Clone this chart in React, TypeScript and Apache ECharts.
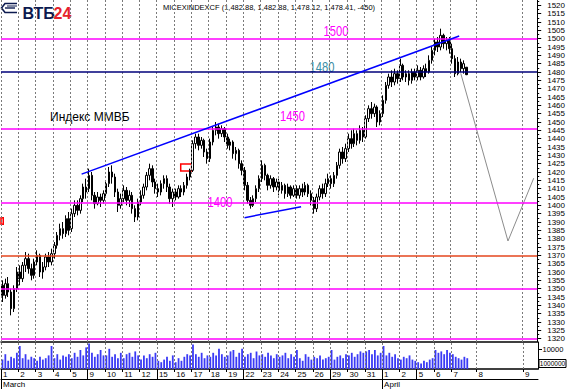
import React, { useEffect, useRef } from 'react';
import * as echarts from 'echarts';

// ---- axis labels / ticks ----
const dayLabels = ['1', '2', '3', '4', '5', '9', '10', '11', '12', '15', '16', '17', '18', '19', '22', '23', '24', '25', '26', '29', '30', '31', '1', '2', '5', '6', '7', '8', '9'];
const dayStarts = [0, 1, 2, 3, 4, 5, 6, 7, 8, 9, 10, 11, 12, 13, 14, 15, 16, 17, 18, 19, 20, 21, 22, 23, 24, 25, 26, 27.45, 30.14];
const weekStarts = [0, 5, 9, 14, 19, 22, 24];
const monthStarts = [0, 22];
const monthLabels = ['March', 'April'];
const priceTicks = [1320, 1325, 1330, 1335, 1340, 1345, 1350, 1355, 1360, 1365, 1370, 1375, 1380, 1385, 1390, 1395, 1400, 1405, 1410, 1415, 1420, 1425, 1430, 1435, 1440, 1445, 1450, 1455, 1460, 1465, 1470, 1475, 1480, 1485, 1490, 1495, 1500, 1505, 1510, 1515, 1520];
const volumeTicks = [10000];

// ---- price bars: [open, close, low, high], 6 bars per trading day ----
const BARS_PER_DAY = 6;
const ohlc: number[][] = [
  // Mar 1
  [1352, 1346, 1342, 1355], [1346, 1353, 1344, 1356], [1353, 1348, 1345, 1357], [1348, 1338, 1334, 1350], [1338, 1350, 1336, 1352], [1350, 1360, 1348, 1363],
  // Mar 2
  [1360, 1356, 1352, 1364], [1356, 1364, 1354, 1366], [1364, 1368, 1360, 1372], [1368, 1362, 1359, 1371], [1362, 1358, 1355, 1365], [1358, 1366, 1356, 1368],
  // Mar 3
  [1366, 1370, 1364, 1373], [1370, 1360, 1357, 1371], [1360, 1363, 1356, 1366], [1363, 1369, 1361, 1371], [1369, 1366, 1363, 1372], [1366, 1371, 1364, 1374],
  // Mar 4
  [1371, 1376, 1368, 1378], [1376, 1382, 1374, 1384], [1382, 1386, 1379, 1389], [1386, 1383, 1380, 1390], [1383, 1392, 1381, 1394], [1392, 1385, 1382, 1396],
  // Mar 5
  [1386, 1395, 1384, 1398], [1395, 1400, 1393, 1403], [1400, 1397, 1394, 1403], [1397, 1404, 1395, 1406], [1404, 1411, 1402, 1413], [1411, 1408, 1404, 1416],
  // Mar 9
  [1410, 1418, 1408, 1422], [1418, 1406, 1403, 1420], [1406, 1401, 1398, 1408], [1401, 1405, 1400, 1408], [1405, 1403, 1399, 1407], [1403, 1407, 1401, 1409],
  // Mar 10
  [1407, 1413, 1405, 1415], [1413, 1420, 1411, 1423], [1420, 1417, 1413, 1424], [1417, 1408, 1405, 1419], [1408, 1400, 1396, 1410], [1400, 1404, 1398, 1407],
  // Mar 11
  [1404, 1409, 1402, 1412], [1409, 1403, 1400, 1411], [1403, 1406, 1399, 1409], [1406, 1398, 1395, 1408], [1398, 1393, 1390, 1400], [1393, 1402, 1391, 1404],
  // Mar 12
  [1402, 1406, 1400, 1409], [1406, 1411, 1404, 1413], [1411, 1418, 1409, 1420], [1418, 1422, 1415, 1425], [1422, 1414, 1411, 1424], [1414, 1410, 1407, 1416],
  // Mar 15
  [1410, 1408, 1405, 1413], [1408, 1413, 1406, 1415], [1413, 1416, 1410, 1418], [1416, 1411, 1408, 1418], [1411, 1404, 1401, 1413], [1404, 1408, 1399, 1410],
  // Mar 16
  [1408, 1405, 1403, 1410], [1405, 1410, 1404, 1412], [1410, 1408, 1405, 1412], [1408, 1412, 1406, 1414], [1412, 1417, 1410, 1419], [1417, 1421, 1415, 1422],
  // Mar 17
  [1421, 1437, 1420, 1439], [1437, 1441, 1434, 1443], [1441, 1436, 1433, 1443], [1436, 1439, 1434, 1441], [1439, 1432, 1429, 1440], [1432, 1428, 1425, 1434],
  // Mar 18
  [1428, 1438, 1426, 1440], [1438, 1445, 1436, 1447], [1445, 1447, 1442, 1450], [1447, 1443, 1440, 1449], [1443, 1446, 1441, 1448], [1446, 1441, 1438, 1447],
  // Mar 19
  [1441, 1436, 1434, 1443], [1436, 1438, 1433, 1440], [1438, 1431, 1428, 1439], [1431, 1433, 1427, 1435], [1433, 1425, 1422, 1434], [1425, 1421, 1418, 1427],
  // Mar 22
  [1421, 1412, 1409, 1423], [1412, 1403, 1401, 1414], [1403, 1400, 1398, 1405], [1400, 1404, 1399, 1406], [1404, 1410, 1402, 1412], [1410, 1416, 1408, 1418],
  // Mar 23
  [1416, 1424, 1414, 1427], [1424, 1418, 1415, 1425], [1418, 1412, 1409, 1419], [1412, 1416, 1410, 1418], [1416, 1411, 1408, 1417], [1411, 1414, 1409, 1416],
  // Mar 24
  [1414, 1409, 1406, 1416], [1409, 1412, 1407, 1414], [1412, 1407, 1404, 1413], [1407, 1411, 1405, 1413], [1411, 1406, 1404, 1412], [1406, 1410, 1405, 1412],
  // Mar 25
  [1410, 1406, 1404, 1412], [1406, 1410, 1404, 1412], [1410, 1408, 1405, 1413], [1408, 1412, 1406, 1414], [1412, 1407, 1405, 1413], [1407, 1403, 1400, 1409],
  // Mar 26
  [1403, 1398, 1395, 1405], [1398, 1405, 1396, 1407], [1405, 1410, 1403, 1412], [1410, 1407, 1404, 1413], [1407, 1413, 1405, 1416], [1413, 1416, 1411, 1419],
  // Mar 29
  [1416, 1413, 1410, 1418], [1413, 1418, 1411, 1420], [1418, 1424, 1416, 1426], [1424, 1432, 1422, 1434], [1432, 1428, 1425, 1435], [1428, 1434, 1426, 1437],
  // Mar 30
  [1434, 1440, 1432, 1443], [1440, 1437, 1434, 1445], [1437, 1443, 1435, 1446], [1443, 1439, 1436, 1445], [1439, 1445, 1437, 1448], [1445, 1441, 1438, 1447],
  // Mar 31
  [1441, 1452, 1440, 1454], [1452, 1458, 1450, 1460], [1458, 1455, 1452, 1462], [1455, 1459, 1453, 1461], [1459, 1450, 1447, 1460], [1450, 1455, 1448, 1457],
  // Apr 1
  [1455, 1463, 1453, 1466], [1463, 1472, 1461, 1474], [1472, 1477, 1470, 1479], [1477, 1474, 1471, 1481], [1474, 1479, 1472, 1482], [1479, 1476, 1473, 1481],
  // Apr 2
  [1476, 1484, 1474, 1488], [1484, 1477, 1475, 1485], [1477, 1479, 1474, 1481], [1479, 1475, 1472, 1481], [1475, 1480, 1473, 1482], [1480, 1477, 1475, 1482],
  // Apr 5
  [1477, 1481, 1475, 1484], [1481, 1477, 1475, 1483], [1477, 1482, 1476, 1484], [1482, 1480, 1477, 1485], [1480, 1487, 1479, 1490], [1487, 1493, 1485, 1495],
  // Apr 6
  [1493, 1498, 1490, 1500], [1498, 1495, 1492, 1501], [1495, 1502, 1493, 1506], [1502, 1497, 1494, 1503], [1497, 1499, 1493, 1501], [1499, 1494, 1491, 1501],
  // Apr 7
  [1494, 1488, 1485, 1497], [1488, 1479, 1477, 1490], [1479, 1486, 1478, 1489], [1486, 1482, 1480, 1488], [1482, 1485, 1479, 1487], [1482.88, 1478.41, 1478.12, 1482.88],
];

const volumes = [
  4700, 7400, 4100, 6100, 5400, 8100,
  11500, 5400, 7400, 4700, 6100, 5400,
  4100, 6100, 4700, 5400, 6800, 11500,
  5400, 7400, 4700, 6800, 6100, 7400,
  5400, 8100, 6100, 9500, 6800, 10800,
  12800, 8100, 6100, 7400, 9500, 6800,
  6800, 10100, 6100, 7400, 5400, 8100,
  5400, 7400, 8100, 6100, 8800, 6800,
  4700, 6800, 5400, 7400, 6100, 8100,
  4100, 3400, 4700, 6100, 4100, 6800,
  3400, 5400, 4100, 6100, 7400, 6800,
  12200, 7400, 6100, 8100, 5400, 6800,
  6100, 8100, 6800, 10100, 7400, 6100,
  6800, 8800, 9500, 6100, 8100, 10100,
  6100, 7400, 8100, 5400, 8800, 6800,
  7400, 6100, 8100, 6800, 5400, 7400,
  6100, 6800, 8100, 5400, 7400, 6100,
  9500, 5400, 4100, 7400, 6100, 4700,
  6100, 5400, 6800, 4700, 5400, 6100,
  9500, 4700, 6100, 6800, 5400, 7400,
  6800, 8100, 6100, 7400, 8800, 8100,
  8800, 9500, 7400, 9500, 6800, 8100,
  11500, 6800, 8100, 6100, 7400, 5400,
  4700, 6100, 5400, 6800, 4700, 4100,
  3400, 2700, 4100, 3400, 4700, 5400,
  9500, 8100, 8800, 7400, 9500, 8100,
  7400, 6100, 5400, 4700, 6100, 5400,
];

// ---- drawn levels / lines (data units: x = trading-day index, y = index points) ----
const levelValues = [1500, 1480, 1446, 1401.5, 1370, 1350, 1320];
const levelColors = ['#ff00ff', '#00007a', '#ff00ff', '#ff00ff', '#e4461e', '#ff00ff', '#ff00ff'];
const upperTrend = [[4.66, 1418.7], [26.49, 1501.6]];
const lowerTrend = [[14.08, 1392.6], [17.35, 1399.2]];
const projection = [[26.58, 1479.2], [29.31, 1378.6], [30.8, 1416.3]];
const redBoxes = [
  [[10.39, 1424.8], [11.02, 1420.6]],
  [[-0.2, 1392.6], [0.13, 1388.6]],
];

const FONT = '"Liberation Sans", Arial, sans-serif';

const barX = (i: number) => Math.floor(i / BARS_PER_DAY) + ((i % BARS_PER_DAY) + 0.5) / BARS_PER_DAY;

export default function App() {
  const ref = useRef<HTMLDivElement>(null);

  useEffect(() => {
    document.body.style.margin = '0';
    if (!ref.current) return;
    const chart = echarts.init(ref.current, undefined, { renderer: 'svg' });

    const candleData = ohlc.map((b, i) => [barX(i), b[0], b[1], b[2], b[3]]);
    const volData = volumes.map((v, i) => [barX(i), v]);
    const minorTicks = priceTicks.map((v) => v + 2.5).filter((v) => v < 1523);

    const dash = { color: '#7a7a7a', width: 1, type: [2, 2] as number[] };
    const dayLinesPrice = dayStarts.map((d) => ({ xAxis: d, lineStyle: dash }));
    const levelLines = levelValues.map((v, i) => ({ yAxis: v, lineStyle: { color: levelColors[i], width: 1.5, type: 'solid' } }));
    const trendLine = (pts: number[][]) => [
      { coord: pts[0], lineStyle: { color: '#0000ff', width: 1.5, type: 'solid' } },
      { coord: pts[1] },
    ];

    const noSplit = { show: false };
    const plain = (v: number) => String(v);

    const option: any = {
      animation: false,
      backgroundColor: '#ffffff',
      grid: [
        { left: 1, top: 0, width: 537, height: 342 },
        { left: 1, top: 342, width: 537, height: 27 },
      ],
      xAxis: [
        {
          type: 'value', gridIndex: 0, min: 0, max: 31, position: 'bottom',
          axisLine: { show: true, onZero: false, lineStyle: { color: '#000', width: 1.5 } },
          axisTick: { show: false }, axisLabel: { show: false }, splitLine: noSplit,
        },
        {
          type: 'value', gridIndex: 1, min: 0, max: 31, position: 'bottom',
          axisLine: { show: true, onZero: false, lineStyle: { color: '#000', width: 1.5 } },
          axisTick: { show: true, customValues: dayStarts, length: 3, lineStyle: { color: '#000' } },
          axisLabel: {
            show: true, customValues: dayStarts, align: 'left', margin: 1, padding: [0, 0, 0, 2],
            fontSize: 8, fontFamily: FONT, color: '#000',
            formatter: (v: number) => dayLabels[dayStarts.indexOf(v)] ?? '',
          },
          splitLine: noSplit,
        },
        {
          type: 'value', gridIndex: 1, min: 0, max: 31, position: 'bottom', offset: 10,
          axisLine: { show: true, onZero: false, lineStyle: { color: '#000', width: 1 } },
          axisTick: { show: true, inside: true, customValues: weekStarts, length: 10, lineStyle: { color: '#000' } },
          axisLabel: { show: false }, splitLine: noSplit,
        },
        {
          type: 'value', gridIndex: 1, min: 0, max: 31, position: 'bottom', offset: 10,
          axisLine: { show: false, onZero: false },
          axisTick: { show: true, customValues: monthStarts, length: 10, lineStyle: { color: '#000' } },
          axisLabel: {
            show: true, customValues: monthStarts, align: 'left', margin: 1, padding: [0, 0, 0, 2],
            fontSize: 8, fontFamily: FONT, color: '#000',
            formatter: (v: number) => monthLabels[monthStarts.indexOf(v)] ?? '',
          },
          splitLine: noSplit,
        },
      ],
      yAxis: [
        {
          type: 'value', gridIndex: 0, min: 1318, max: 1523.2, position: 'right',
          axisLine: { show: true, onZero: false, lineStyle: { color: '#000', width: 1 } },
          axisTick: { show: true, customValues: priceTicks, length: 4, lineStyle: { color: '#000' } },
          axisLabel: { show: true, customValues: priceTicks, margin: 10, fontSize: 8, fontFamily: FONT, color: '#000', formatter: plain },
          splitLine: noSplit,
        },
        {
          type: 'value', gridIndex: 0, min: 1318, max: 1523.2, position: 'right',
          axisLine: { show: false, onZero: false },
          axisTick: { show: true, customValues: minorTicks, length: 2, lineStyle: { color: '#000' } },
          axisLabel: { show: false }, splitLine: noSplit,
        },
        {
          type: 'value', gridIndex: 1, min: 0, max: 13500, position: 'right',
          axisLine: { show: true, onZero: false, lineStyle: { color: '#000', width: 1 } },
          axisTick: { show: true, customValues: volumeTicks, length: 4, lineStyle: { color: '#000' } },
          axisLabel: { show: false },
          splitLine: noSplit,
        },
      ],
      series: [
        {
          name: 'MICEXINDEXCF',
          type: 'candlestick',
          xAxisIndex: 0, yAxisIndex: 0,
          data: candleData,
          encode: { x: 0, y: [1, 2, 3, 4] },
          barWidth: 2,
          itemStyle: { color: '#ffffff', color0: '#000000', borderColor: '#000000', borderColor0: '#000000', borderWidth: 1 },
          markLine: {
            silent: true, symbol: ['none', 'none'], label: { show: false },
            data: [...dayLinesPrice, ...levelLines, trendLine(upperTrend), trendLine(lowerTrend)],
          },
          markArea: {
            silent: true,
            itemStyle: { color: 'rgba(0,0,0,0)', borderColor: '#ff0000', borderWidth: 1.5 },
            data: redBoxes.map((b) => [{ coord: b[0] }, { coord: b[1] }]),
          },
        },
        {
          name: 'projection',
          type: 'line',
          xAxisIndex: 0, yAxisIndex: 0,
          data: projection,
          symbol: 'none',
          lineStyle: { color: '#8c8c8c', width: 1 },
        },
        {
          name: 'volume',
          type: 'bar',
          xAxisIndex: 1, yAxisIndex: 2,
          data: volData,
          barWidth: 1.8,
          itemStyle: { color: '#3a3af5' },
          markLine: {
            silent: true, symbol: ['none', 'none'], label: { show: false },
            data: dayStarts.map((d) => ({ xAxis: d, lineStyle: dash })),
          },
        },
      ],
      graphic: [
        // logo mark
        { type: 'polyline', shape: { points: [[17, 3.5], [5, 3.5], [1.5, 8], [5, 12.5], [17, 12.5]] }, style: { stroke: '#0c1a4f', lineWidth: 1.6, fill: 'none' } },
        { type: 'line', shape: { x1: 5, y1: 8, x2: 15, y2: 8 }, style: { stroke: '#0c1a4f', lineWidth: 1.4 } },
        { type: 'line', shape: { x1: 7, y1: 6, x2: 17, y2: 6 }, style: { stroke: '#0c1a4f', lineWidth: 1 } },
        { type: 'text', x: 22.5, y: 13, style: { text: 'ВТБ', fill: '#0c1a4f', fontSize: 16, fontWeight: 'bold', fontFamily: FONT, verticalAlign: 'middle' } },
        { type: 'text', x: 53.5, y: 13, style: { text: '24', fill: '#e5222a', fontSize: 16, fontWeight: 'bold', fontFamily: FONT, verticalAlign: 'middle' } },
        // title
        { type: 'text', x: 269, y: 7, style: { text: 'MICEXINDEXCF (1,482.88, 1,482.88, 1,478.12, 1,478.41, -450)', fill: '#000', fontSize: 7.5, fontFamily: FONT, align: 'center', verticalAlign: 'middle' } },
        // annotations
        { type: 'text', x: 50, y: 117, style: { text: 'Индекс ММВБ', fill: '#000', fontSize: 12, fontFamily: FONT, verticalAlign: 'middle' } },
        { type: 'text', x: 336, y: 31.5, scaleX: 0.8, style: { text: '1500', fill: '#ff00ff', fontSize: 14, fontFamily: FONT, align: 'center', verticalAlign: 'middle' } },
        { type: 'text', x: 322, y: 67.5, scaleX: 0.8, style: { text: '1480', fill: '#3b8ea5', fontSize: 14, fontFamily: FONT, align: 'center', verticalAlign: 'middle' } },
        { type: 'text', x: 292.5, y: 117, scaleX: 0.8, style: { text: '1450', fill: '#ff00ff', fontSize: 14, fontFamily: FONT, align: 'center', verticalAlign: 'middle' } },
        { type: 'text', x: 220, y: 202.5, scaleX: 0.8, style: { text: '1400', fill: '#ff00ff', fontSize: 14, fontFamily: FONT, align: 'center', verticalAlign: 'middle' } },
        // volume scale label and value box
        { type: 'text', x: 542.5, y: 349.5, style: { text: String(volumeTicks[0]), fill: '#000', fontSize: 7.5, fontFamily: FONT, verticalAlign: 'middle' } },
        { type: 'rect', shape: { x: 539, y: 359.5, width: 27, height: 8 }, style: { fill: '#ffffff', stroke: '#000', lineWidth: 1 } },
        { type: 'text', x: 552.5, y: 363.7, style: { text: '1000000', fill: '#000', fontSize: 6.5, fontFamily: FONT, align: 'center', verticalAlign: 'middle' } },
      ],
    };

    chart.setOption(option);
    return () => chart.dispose();
  }, []);

  return (
    <div
      ref={ref}
      style={{ position: 'fixed', left: 0, top: 0, width: 568, height: 389, background: '#ffffff' }}
    />
  );
}
